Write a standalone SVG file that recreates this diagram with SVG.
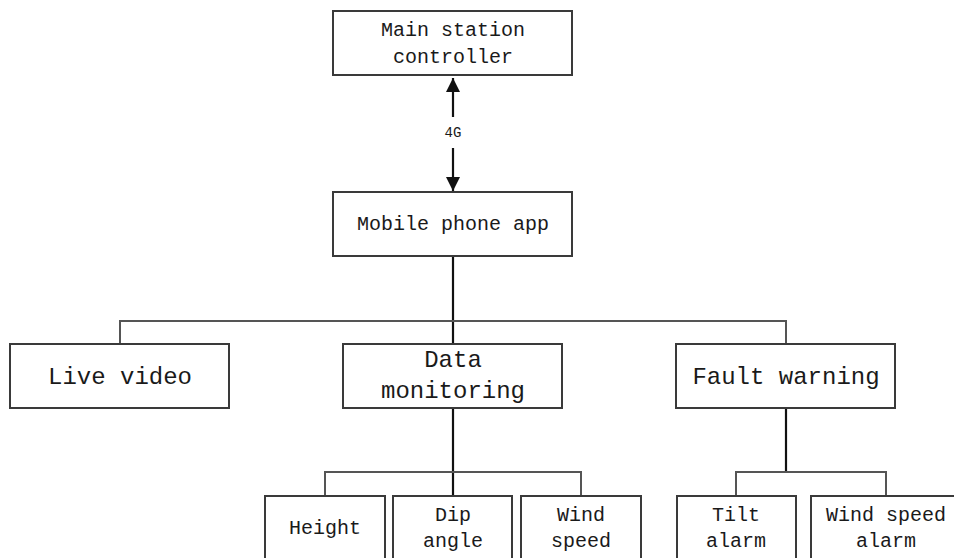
<svg xmlns="http://www.w3.org/2000/svg" width="954" height="558" viewBox="0 0 954 558">
<defs>
<style>
.box{fill:#fff;stroke:#3a3a3a;stroke-width:2}
.t{font-family:"Liberation Mono",monospace;fill:#1a1a1a;text-anchor:middle}
.s20{font-size:20px}
.s24{font-size:24px}
.c{fill:none;stroke:#555;stroke-width:2}
.cd{fill:none;stroke:#111;stroke-width:2.2}
</style>
<marker id="ah" viewBox="0 0 10 10" refX="10" refY="5" markerWidth="14" markerHeight="14" markerUnits="userSpaceOnUse" orient="auto-start-reverse">
<path d="M0,0 L10,5 L0,10 z" fill="#111"/>
</marker>
</defs>
<rect width="954" height="558" fill="#fff"/>
<g id="connectors">
<line class="cd" x1="453" y1="78" x2="453" y2="117" marker-start="url(#ah)"/>
<line class="cd" x1="453" y1="148" x2="453" y2="191" marker-end="url(#ah)"/>
<text class="t" x="453" y="137" font-size="14">4G</text>
<line class="cd" x1="453" y1="256" x2="453" y2="344"/>
<polyline class="c" points="120,344 120,321 786,321 786,344"/>
<line class="cd" x1="453" y1="408" x2="453" y2="496"/>
<polyline class="c" points="325,496 325,472 581,472 581,496"/>
<line class="cd" x1="786" y1="408" x2="786" y2="472"/>
<polyline class="c" points="736,496 736,472 886,472 886,496"/>
</g>
<g id="main-station">
<rect class="box" x="333" y="11" width="239" height="64"/>
<text class="t s20" x="453" y="36">Main station</text>
<text class="t s20" x="453" y="63">controller</text>
</g>
<g id="mobile-app">
<rect class="box" x="333" y="192" width="239" height="64"/>
<text class="t s20" x="453" y="230">Mobile phone app</text>
</g>
<g id="live-video">
<rect class="box" x="10" y="344" width="219" height="64"/>
<text class="t s24" x="120" y="384">Live video</text>
</g>
<g id="data-monitoring">
<rect class="box" x="343" y="344" width="219" height="64"/>
<text class="t s24" x="453" y="367">Data</text>
<text class="t s24" x="453" y="398">monitoring</text>
</g>
<g id="fault-warning">
<rect class="box" x="676" y="344" width="219" height="64"/>
<text class="t s24" x="786" y="384">Fault warning</text>
</g>
<g id="height">
<rect class="box" x="265" y="496" width="120" height="80"/>
<text class="t s20" x="325" y="534">Height</text>
</g>
<g id="dip-angle">
<rect class="box" x="393" y="496" width="119" height="80"/>
<text class="t s20" x="453" y="521">Dip</text>
<text class="t s20" x="453" y="547">angle</text>
</g>
<g id="wind-speed">
<rect class="box" x="521" y="496" width="120" height="80"/>
<text class="t s20" x="581" y="521">Wind</text>
<text class="t s20" x="581" y="547">speed</text>
</g>
<g id="tilt-alarm">
<rect class="box" x="677" y="496" width="119" height="80"/>
<text class="t s20" x="736" y="521">Tilt</text>
<text class="t s20" x="736" y="547">alarm</text>
</g>
<g id="wind-speed-alarm">
<rect class="box" x="811" y="496" width="150" height="80"/>
<text class="t s20" x="886" y="521">Wind speed</text>
<text class="t s20" x="886" y="547">alarm</text>
</g>
</svg>
